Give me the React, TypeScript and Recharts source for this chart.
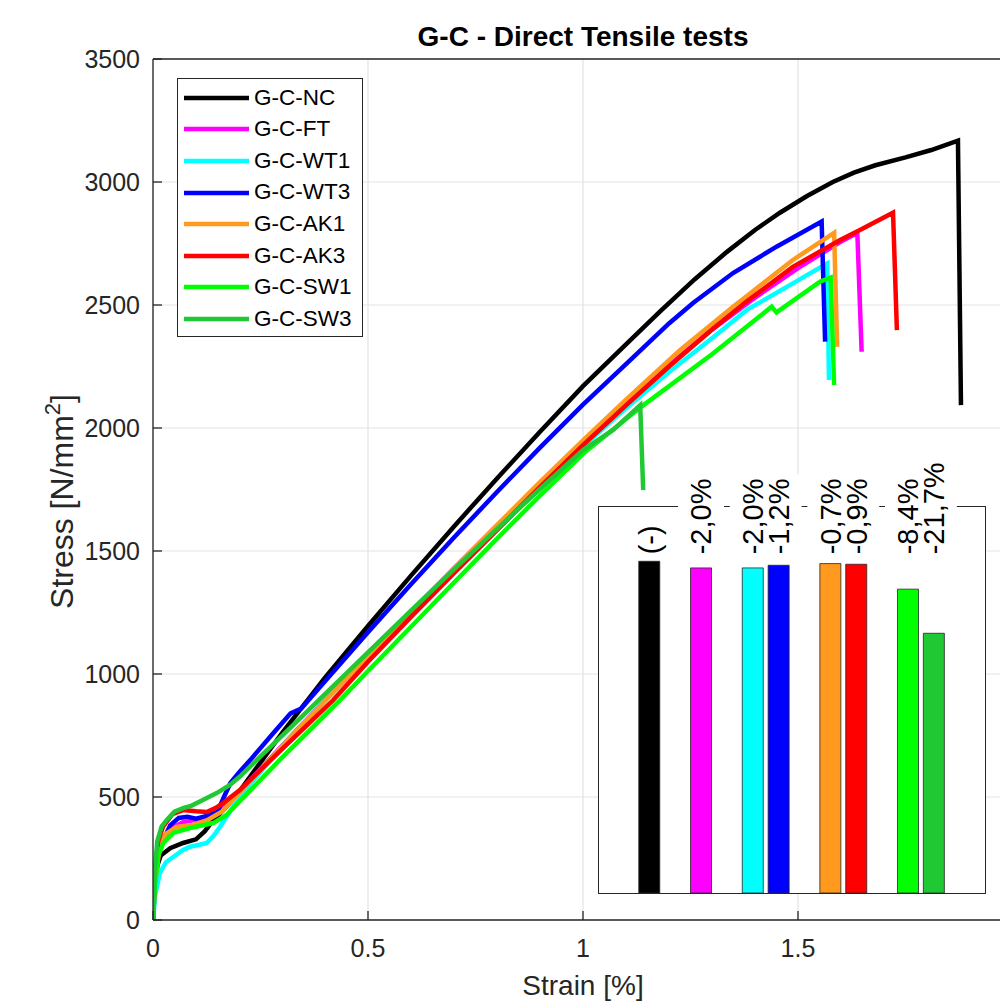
import React from 'react';
import {
  LineChart, Line, XAxis, YAxis, CartesianGrid, Legend, ReferenceLine,
  BarChart, Bar, Cell, LabelList,
} from 'recharts';

const FONT = '"Liberation Sans", Arial, Helvetica, sans-serif';
const INK = '#262626';
const GRID = '#e3e3e3';

const SERIES_NAMES = ['G-C-NC', 'G-C-FT', 'G-C-WT1', 'G-C-WT3', 'G-C-AK1', 'G-C-AK3', 'G-C-SW1', 'G-C-SW3'];
const SERIES_COLORS = ['#000000', '#ff00ff', '#00ffff', '#0000ff', '#ff9a1f', '#ff0000', '#00ff00', '#20c834'];

// stress-strain curves as [strain %, stress N/mm2]
const NC: [number, number][] = [
  [0, 0], [0.004, 130], [0.01, 220], [0.018, 262], [0.04, 292], [0.07, 313], [0.1, 328], [0.12, 360],
  [0.14, 405], [0.171, 460], [0.2, 520], [0.226, 583], [0.3, 760], [0.4, 985], [0.5, 1195], [0.6, 1400],
  [0.7, 1600], [0.8, 1795], [0.9, 1985], [1.0, 2170], [1.1, 2340], [1.18, 2475], [1.26, 2605], [1.334, 2715],
  [1.4, 2805], [1.458, 2875], [1.52, 2942], [1.581, 3000], [1.63, 3038], [1.68, 3068], [1.75, 3100],
  [1.81, 3130], [1.872, 3168], [1.879, 2093],
];
const FT: [number, number][] = [
  [0, 0], [0.004, 150], [0.015, 300], [0.04, 370], [0.07, 398], [0.109, 410], [0.15, 440], [0.2, 520],
  [0.3, 708], [0.4, 893], [0.5, 1073], [0.6, 1252], [0.7, 1430], [0.8, 1603], [0.9, 1773], [1.0, 1938],
  [1.1, 2098], [1.2, 2255], [1.3, 2400], [1.4, 2530], [1.5, 2650], [1.6, 2758], [1.638, 2793], [1.648, 2310],
];
const WT1: [number, number][] = [
  [0, 0], [0.005, 100], [0.016, 191], [0.03, 235], [0.047, 256], [0.07, 285], [0.086, 298], [0.105, 305],
  [0.125, 313], [0.14, 340], [0.156, 379], [0.186, 460], [0.22, 540], [0.3, 705], [0.4, 892], [0.5, 1073],
  [0.6, 1250], [0.7, 1425], [0.8, 1597], [0.9, 1765], [1.0, 1925], [1.1, 2080], [1.2, 2228], [1.3, 2365],
  [1.381, 2480], [1.481, 2581], [1.568, 2669], [1.572, 2195],
];
const WT3: [number, number][] = [
  [0, 0], [0.004, 150], [0.012, 270], [0.025, 330], [0.04, 385], [0.06, 415], [0.08, 420], [0.1, 412],
  [0.13, 425], [0.15, 440], [0.165, 500], [0.18, 557], [0.2, 600], [0.226, 650], [0.28, 760], [0.32, 840],
  [0.345, 860], [0.4, 970], [0.5, 1170], [0.6, 1365], [0.7, 1555], [0.8, 1740], [0.9, 1920], [1.0, 2095],
  [1.1, 2260], [1.2, 2425], [1.256, 2508], [1.349, 2630], [1.45, 2737], [1.555, 2839], [1.563, 2351],
];
const AK1: [number, number][] = [
  [0, 0], [0.004, 140], [0.015, 290], [0.03, 350], [0.055, 378], [0.09, 385], [0.125, 405], [0.16, 440],
  [0.2, 515], [0.3, 705], [0.4, 890], [0.5, 1070], [0.6, 1250], [0.7, 1430], [0.8, 1605], [0.9, 1780],
  [1.0, 1950], [1.1, 2115], [1.226, 2317], [1.349, 2493], [1.488, 2683], [1.584, 2793], [1.591, 2330],
];
const AK3: [number, number][] = [
  [0, 0], [0.004, 170], [0.012, 320], [0.023, 378], [0.045, 430], [0.07, 447], [0.1, 442], [0.125, 439],
  [0.145, 455], [0.163, 475], [0.202, 528], [0.3, 695], [0.419, 894], [0.5, 1050], [0.6, 1232], [0.7, 1410],
  [0.8, 1585], [0.9, 1760], [1.0, 1930], [1.1, 2092], [1.2, 2250], [1.3, 2400], [1.381, 2515], [1.488, 2655],
  [1.598, 2764], [1.644, 2805], [1.721, 2875], [1.73, 2398],
];
const SW1: [number, number][] = [
  [0, 0], [0.005, 150], [0.012, 260], [0.024, 313], [0.047, 354], [0.086, 374], [0.14, 394], [0.171, 427],
  [0.2, 480], [0.3, 660], [0.435, 894], [0.5, 1012], [0.6, 1192], [0.7, 1372], [0.8, 1550], [0.9, 1725],
  [1.0, 1895], [1.136, 2087], [1.3, 2300], [1.439, 2493], [1.45, 2470], [1.551, 2595], [1.576, 2612], [1.584, 2175],
];
const SW3: [number, number][] = [
  [0, 0], [0.004, 200], [0.01, 320], [0.02, 380], [0.032, 407], [0.05, 440], [0.07, 455], [0.09, 465],
  [0.116, 488], [0.148, 516], [0.179, 549], [0.202, 583], [0.25, 665], [0.3, 748], [0.4, 918], [0.5, 1088],
  [0.6, 1258], [0.7, 1425], [0.8, 1590], [0.9, 1752], [1.0, 1910], [1.07, 1992], [1.133, 2093], [1.14, 1748],
];
const SERIES_POINTS = [NC, FT, WT1, WT3, AK1, AK3, SW1, SW3];

const X_TICKS = [0, 0.5, 1, 1.5];
const Y_TICKS = [0, 500, 1000, 1500, 2000, 2500, 3000, 3500];

// inset bars: value relative to G-C-NC (=100), text printed above each bar
const INSET_VALUES = [100, 98.0, 98.0, 98.8, 99.3, 99.1, 91.6, 78.3];
const INSET_LABELS = ['(-)', '-2,0%', '-2,0%', '-1,2%', '-0,7%', '-0,9%', '-8,4%', '-21,7%'];
const INSET_SLOTS = [0, 2, 4, 5, 7, 8, 10, 11]; // x position of each bar, gaps between groups
const INSET_Y_MAX = 700 / 6;
const INSET_Y_TICKS = [0, 1, 2, 3, 4, 5, 6, 7].map(k => (k * INSET_Y_MAX) / 7);

const insetRows = Array.from({ length: 14 }, (_, k) => {
  const slot = k - 1;
  const i = INSET_SLOTS.indexOf(slot);
  return {
    slot,
    value: i >= 0 ? INSET_VALUES[i] : 0,
    series: i,
    tag: i >= 0 ? `${INSET_LABELS[i]}|${INSET_VALUES[i]}` : '',
  };
});

const LABEL_FS = 29;
const LABEL_LIFT = 7;
const CHAR_EM: Record<string, number> = { '-': 0.333, ',': 0.278, '%': 0.889, '(': 0.333, ')': 0.333 };
const textEm = (s: string) => [...s].reduce((w, c) => w + (CHAR_EM[c] ?? 0.556), 0);

function labelAnchor(p: any) {
  const vb = p.viewBox ?? p;
  if (!p.value || !vb || !vb.height) return null;
  const [text, v] = String(p.value).split('|');
  const value = Number(v);
  const bottom = vb.y + vb.height;
  const perUnit = vb.height / value;
  return {
    cx: vb.x + vb.width / 2,
    y0: bottom - Math.max(...INSET_VALUES) * perUnit - LABEL_LIFT,
    text,
  };
}

// white plate behind the rotated label (hides box edge and grid, like MATLAB text background)
function LabelPlate(p: any) {
  const a = labelAnchor(p);
  if (!a) return null;
  const len = textEm(a.text) * LABEL_FS;
  return <rect x={a.cx - 23} y={a.y0 - len - 4} width={46} height={len + 7} fill="#fff" />;
}

function LabelText(p: any) {
  const a = labelAnchor(p);
  if (!a) return null;
  return (
    <text
      transform={`translate(${a.cx},${a.y0}) rotate(-90)`}
      dy="0.36em" textAnchor="start" fontSize={LABEL_FS} fill="#000" fontFamily={FONT}
    >
      {a.text}
    </text>
  );
}

function StressLabel({ viewBox }: any) {
  if (!viewBox) return null;
  const x = viewBox.x + 73;
  const y = viewBox.y + viewBox.height / 2 + 12;
  return (
    <text transform={`translate(${x},${y}) rotate(-90)`} textAnchor="middle" fontSize={32} fill={INK} fontFamily={FONT}>
      <tspan>Stress [N/mm</tspan>
      <tspan fontSize={22} dy={-13}>2</tspan>
      <tspan dy={13}>]</tspan>
    </text>
  );
}

function LegendBox() {
  return (
    <div style={{
      boxSizing: 'border-box', width: 186, height: 259, border: `1px solid ${INK}`,
      background: '#fff', paddingTop: 3, fontFamily: FONT,
    }}>
      {SERIES_NAMES.map((name, i) => (
        <div key={name} style={{ display: 'flex', alignItems: 'center', height: 31.6 }}>
          <svg width={71} height={8} style={{ display: 'block' }}>
            <line x1={6} x2={71} y1={4} y2={4} stroke={SERIES_COLORS[i]} strokeWidth={4.5} />
          </svg>
          <span style={{ marginLeft: 5, fontSize: 22.5, color: '#000', lineHeight: 1 }}>{name}</span>
        </div>
      ))}
    </div>
  );
}

export default function App() {
  return (
    <div style={{
      position: 'absolute', left: 0, top: 0, width: 1000, height: 1001,
      overflow: 'hidden', background: '#fff', fontFamily: FONT,
    }}>
      <div style={{
        position: 'absolute', left: 383, top: 23, width: 400, textAlign: 'center',
        fontSize: 28, fontWeight: 'bold', lineHeight: 1, color: '#000',
      }}>
        G-C - Direct Tensile tests
      </div>

      <div style={{ position: 'absolute', left: 0, top: 0 }}>
        <LineChart width={1100} height={1001} margin={{ top: 59, right: 87, bottom: 0, left: 0 }}>
          <CartesianGrid stroke={GRID} strokeWidth={1.2} />
          <XAxis
            dataKey="x" type="number" domain={[0, 2]} ticks={X_TICKS} allowDataOverflow
            height={81} tickSize={-9} tickMargin={28}
            stroke={INK} strokeWidth={1.3}
            tick={{ fill: INK, fontSize: 25 }}
            label={{ value: 'Strain [%]', position: 'insideBottom', offset: 6, fill: INK, fontSize: 28 }}
          />
          <YAxis
            type="number" domain={[0, 3500]} ticks={Y_TICKS} allowDataOverflow
            width={153} tickSize={-9} tickMargin={22}
            stroke={INK} strokeWidth={1.3}
            tick={{ fill: INK, fontSize: 25 }}
            label={(p: any) => <StressLabel {...p} />}
          />
          <ReferenceLine y={3500} stroke={INK} strokeWidth={1.3} />
          {SERIES_POINTS.map((pts, i) => (
            <Line
              key={SERIES_NAMES[i]}
              data={pts.map(([x, y]) => ({ x, y }))}
              dataKey="y" name={SERIES_NAMES[i]}
              type="linear" stroke={SERIES_COLORS[i]} strokeWidth={4.5}
              dot={false} activeDot={false} isAnimationActive={false}
            />
          ))}
          <Legend
            layout="vertical" align="center" verticalAlign="middle"
            wrapperStyle={{ left: 177, top: 78, width: 186, height: 259 }}
            content={<LegendBox />}
          />
        </LineChart>
      </div>

      {/* inset box */}
      <div style={{
        position: 'absolute', left: 598, top: 506, width: 388, height: 388,
        boxSizing: 'border-box', border: `1px solid ${INK}`, background: '#fff',
      }} />
      <div style={{ position: 'absolute', left: 598, top: 440 }}>
        <BarChart width={388} height={454} data={insetRows} margin={{ top: 66, right: 0, bottom: 1, left: 0 }}>
          <XAxis dataKey="slot" hide padding={{ left: 12.9, right: 12.9 }} />
          <YAxis
            yAxisId="l" domain={[0, INSET_Y_MAX]} ticks={INSET_Y_TICKS} width={0}
            tick={false} tickSize={-5} axisLine={false} tickLine={{ stroke: INK }}
          />
          <YAxis
            yAxisId="r" orientation="right" domain={[0, INSET_Y_MAX]} ticks={INSET_Y_TICKS} width={0}
            tick={false} tickSize={-5} axisLine={false} tickLine={{ stroke: INK }}
          />
          <Bar yAxisId="l" dataKey="value" barSize={21} stroke={INK} strokeWidth={0.8} isAnimationActive={false}>
            {insetRows.map(r => (
              <Cell key={r.slot} fill={r.series >= 0 ? SERIES_COLORS[r.series] : 'none'} />
            ))}
            <LabelList dataKey="tag" content={<LabelPlate />} />
            <LabelList dataKey="tag" content={<LabelText />} />
          </Bar>
        </BarChart>
      </div>
    </div>
  );
}
